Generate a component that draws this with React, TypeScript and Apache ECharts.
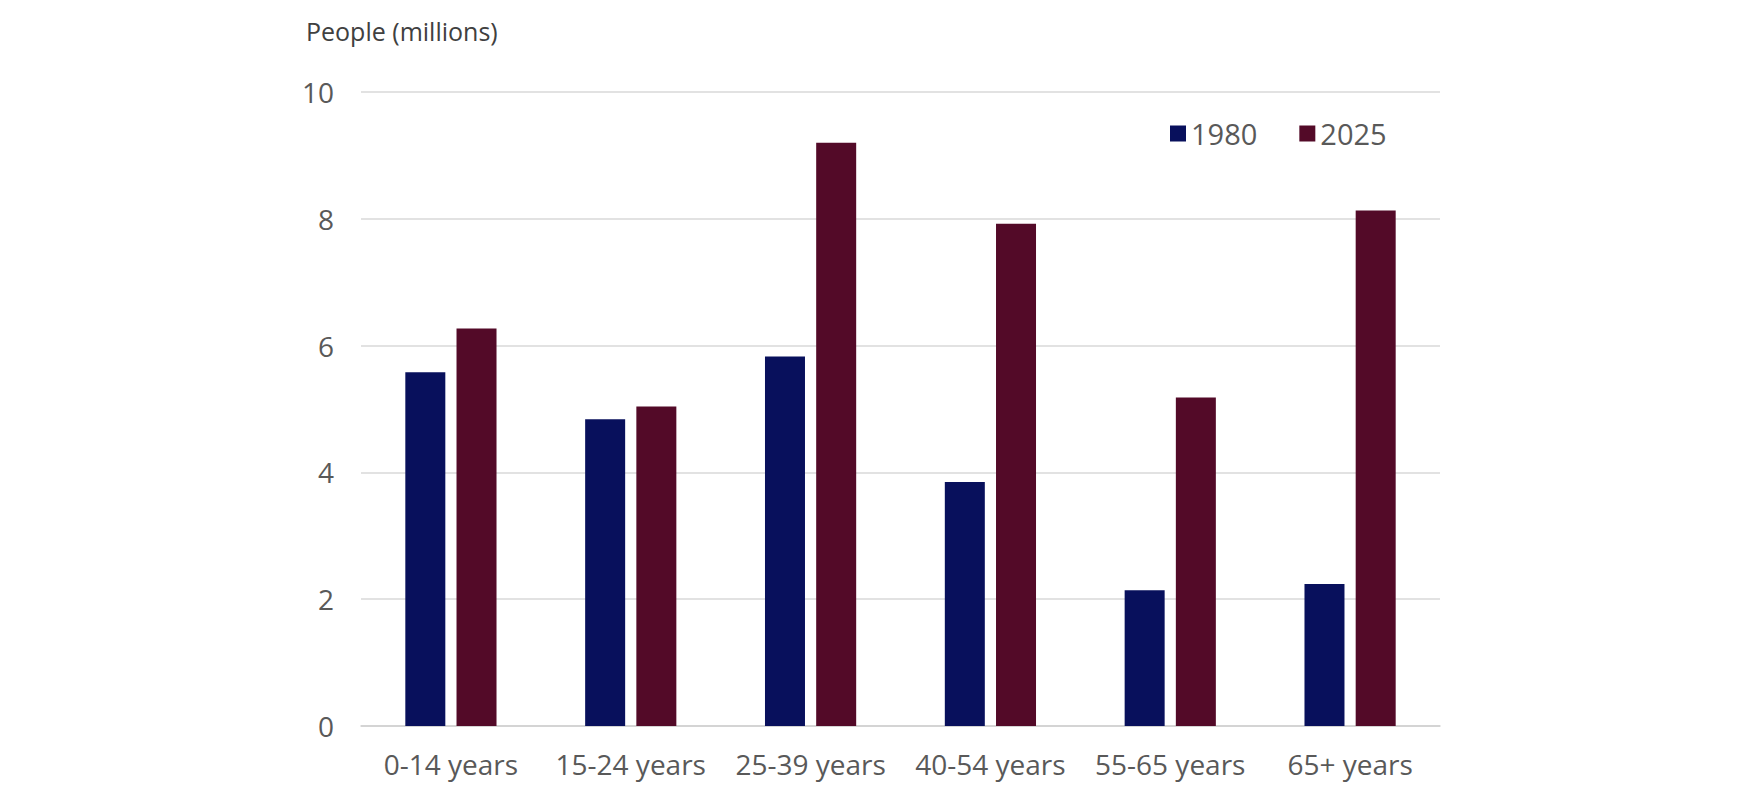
import React, { useEffect, useRef } from "react";
import * as echarts from "echarts";

const categories = ["0-14 years", "15-24 years", "25-39 years", "40-54 years", "55-65 years", "65+ years"];
const values1980 = [5.58, 4.84, 5.83, 3.85, 2.14, 2.24];
const values2025 = [6.27, 5.04, 9.2, 7.92, 5.18, 8.13];
const yTicks = { min: 0, max: 10, interval: 2 };

export default function App() {
  const ref = useRef<HTMLDivElement>(null);
  useEffect(() => {
    if (!ref.current) return;
    const chart = echarts.init(ref.current, null, { renderer: "svg" });
    const font = "'Open Sans', Lato, sans-serif";
    chart.setOption({
      animation: false,
      backgroundColor: "#ffffff",
      textStyle: { fontFamily: font },
      title: {
        text: "People (millions)",
        left: 301,
        top: 13,
        textStyle: { fontFamily: font, fontSize: 25, fontWeight: "normal", color: "#404040" },
      },
      legend: {
        left: 1165,
        top: 114,
        itemWidth: 16,
        itemHeight: 16,
        itemGap: 42,
        icon: "rect",
        textStyle: { fontFamily: font, fontSize: 29, color: "#595959", padding: [0, 0, 0, 0] },
        data: ["1980", "2025"],
      },
      grid: { left: 361, right: 317, top: 92, bottom: 81, containLabel: false },
      xAxis: {
        type: "category",
        data: categories,
        axisTick: { show: false },
        axisLine: { lineStyle: { color: "#cfcfcf", width: 1.5 } },
        axisLabel: { fontFamily: font, fontSize: 28, color: "#595959", margin: 24, interval: 0 },
      },
      yAxis: {
        type: "value",
        min: yTicks.min,
        max: yTicks.max,
        interval: yTicks.interval,
        axisLine: { show: false },
        axisTick: { show: false },
        splitLine: { lineStyle: { color: "#d9d9d9", width: 1.5 } },
        axisLabel: { fontFamily: font, fontSize: 28, color: "#595959", margin: 27 },
      },
      series: [
        {
          name: "1980",
          type: "bar",
          data: values1980,
          barWidth: 40,
          barGap: "28%",
          itemStyle: { color: "#08105C" },
        },
        {
          name: "2025",
          type: "bar",
          data: values2025,
          barWidth: 40,
          barGap: "28%",
          itemStyle: { color: "#530A28" },
        },
      ],
    });
    return () => chart.dispose();
  }, []);
  return (
    <div
      ref={ref}
      style={{ position: "fixed", left: 0, top: 0, width: 1757, height: 807, background: "#fff" }}
    />
  );
}
